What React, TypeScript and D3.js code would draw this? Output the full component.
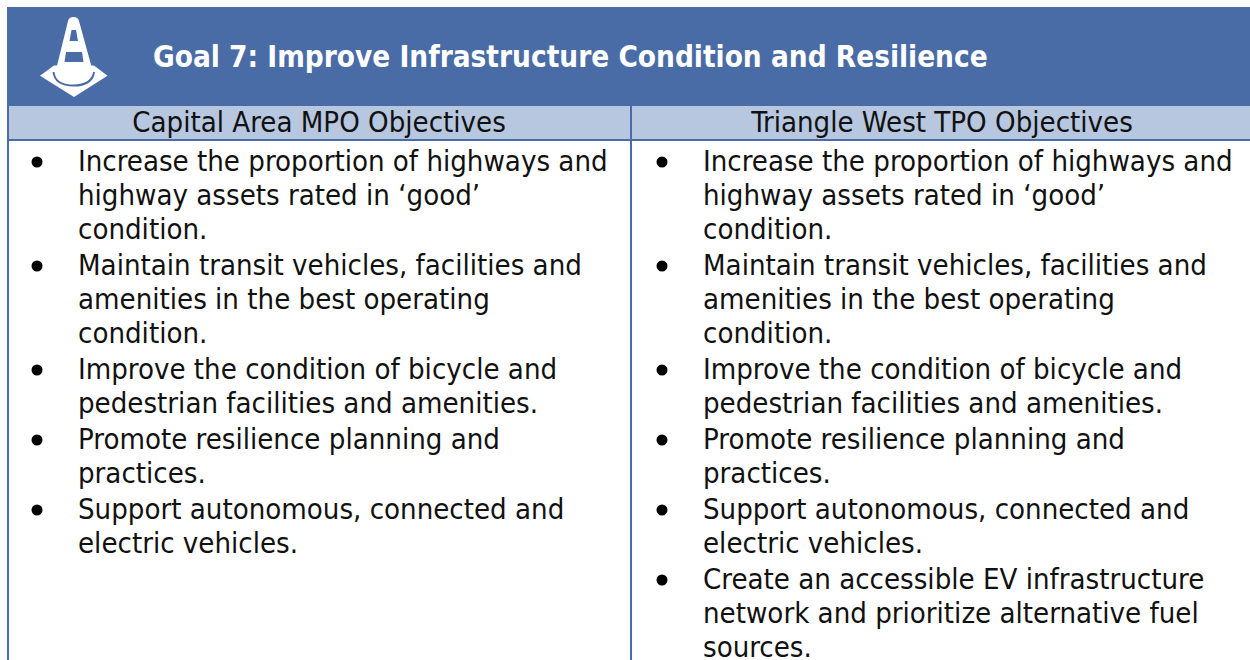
import React from "react";
import * as d3 from "d3";

const title = "Goal 7: Improve Infrastructure Condition and Resilience";
const columns = ["Capital Area MPO Objectives", "Triangle West TPO Objectives"];
const leftLines = [
  ["Increase the proportion of highways and", "highway assets rated in ‘good’", "condition."],
  ["Maintain transit vehicles, facilities and", "amenities in the best operating", "condition."],
  ["Improve the condition of bicycle and", "pedestrian facilities and amenities."],
  ["Promote resilience planning and", "practices."],
  ["Support autonomous, connected and", "electric vehicles."],
];
const rightLines = [
  ...leftLines,
  ["Create an accessible EV infrastructure", "network and prioritize alternative fuel", "sources."],
];

const FONT = "'DejaVu Sans Condensed', 'DejaVu Sans', sans-serif";
const BLUE = "#4A6CA6";
const LINE = 34;
const GAP = 2;
const xCol = d3.scaleOrdinal<number, number>().domain([0, 1]).range([7, 632]);

function Bullets({ items, x }: { items: string[][]; x: number }) {
  let line = 0;
  return (
    <g>
      {items.map((it, i) => {
        const y0 = 161 + line * LINE + i * GAP;
        const group = (
          <g key={i}>
            <circle cx={x + 30} cy={y0 + 1} r={5.5} fill="#000" />
            {it.map((t, j) => (
              <text key={j} x={x + 71} y={y0 + j * LINE + 10} fontSize={29.1} fontFamily={FONT} fill="#111">{t}</text>
            ))}
          </g>
        );
        line += it.length;
        return group;
      })}
    </g>
  );
}

export default function App() {
  return (
    <svg width={1250} height={660} style={{ position: "absolute", left: 0, top: 0, background: "#fff" }}>
      <rect x={7} y={7} width={1243} height={99} fill={BLUE} />
      <rect x={9} y={106} width={1241} height={33} fill="#B7C7E0" />
      {/* traffic cone */}
      <path d="M54 65.5 L94 65.5 L107.5 75.7 L74 97 L40 75.7 Z" fill="#fff" />
      <path d="M53.5 72 Q55 85.5 73.5 85.5 Q92 85.5 94 72" fill="none" stroke={BLUE} strokeWidth={2} />
      <path d="M68 21 Q69 17 73.5 17 Q78 17 79 21 L93 72 Q90 82 74 82 Q58 82 55.5 72 Z" fill="#fff" />
      <path d="M71.5 30 L76 30 L78 41 L69.5 41 Z" fill={BLUE} />
      <path d="M66 52 L82 52 L83.5 62 L64.5 62 Z" fill={BLUE} />
      <text x={153} y={67} fontSize={29.45} fontWeight={700} fontFamily={FONT} fill="#fff">{title}</text>
      {columns.map((c, i) => (
        <text key={c} x={i === 0 ? 319 : 942} y={132} textAnchor="middle" fontSize={29.1} fontFamily={FONT} fill="#111">{c}</text>
      ))}
      <Bullets items={leftLines} x={xCol(0)} />
      <Bullets items={rightLines} x={xCol(1)} />
      <rect x={7} y={106} width={2} height={554} fill={BLUE} />
      <rect x={630} y={106} width={2} height={554} fill={BLUE} />
      <rect x={7} y={139} width={1243} height={2} fill={BLUE} />
    </svg>
  );
}
